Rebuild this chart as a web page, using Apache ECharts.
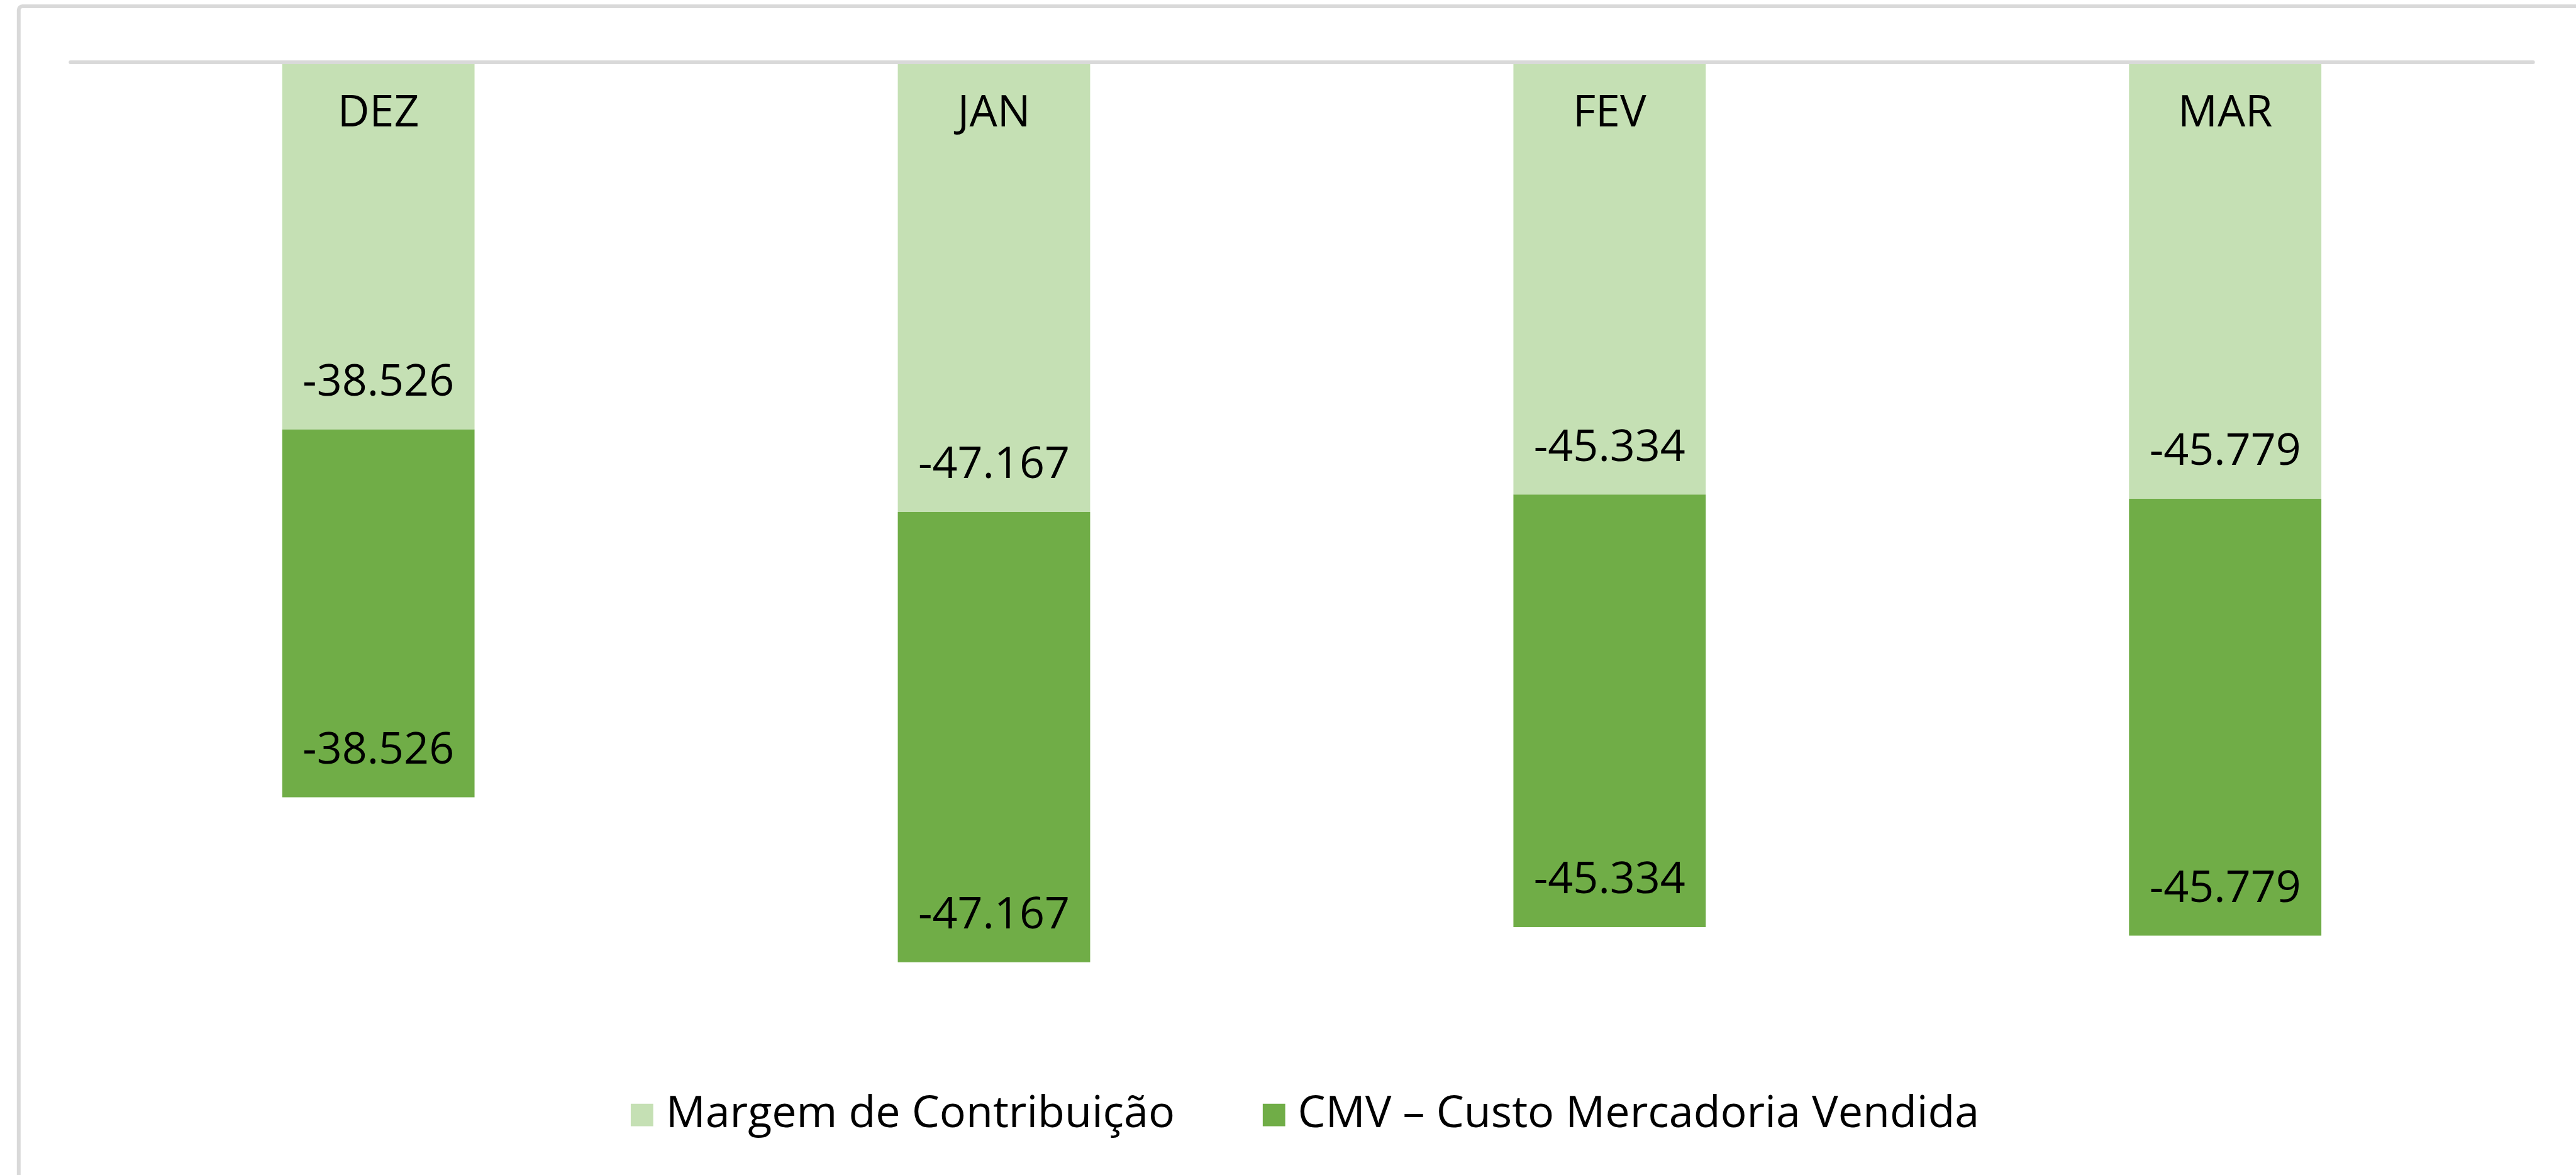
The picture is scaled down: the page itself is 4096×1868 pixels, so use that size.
<!DOCTYPE html>
<html>
<head>
<meta charset="utf-8">
<script src="https://cdn.jsdelivr.net/npm/echarts@6/dist/echarts.min.js"></script>
<style>
  html, body { margin: 0; padding: 0; background: #fff; }
  #chart { width: 4096px; height: 1868px; }
</style>
</head>
<body>
<div id="chart"></div>
<script>
// dados do gráfico
const categories = ['DEZ', 'JAN', 'FEV', 'MAR'];
const margem = [-38526, -47167, -45334, -45779];
const cmv = [-38526, -47167, -45334, -45779];
const seriesNames = ['Margem de Contribuição', 'CMV – Custo Mercadoria Vendida'];
const valueMin = -100000;
const valueMax = 0;

const S = 0.993; // escala referência -> janela
const FONT = 'Open Sans';
const fontSize = 70;

// -38526 -> "-38.526"
function fmt(v) {
  const s = Math.abs(v).toString().replace(/\B(?=(\d{3})+(?!\d))/g, '.');
  return (v < 0 ? '-' : '') + s;
}

const myChart = echarts.init(document.getElementById('chart'));

const barLabel = {
  show: true,
  position: 'insideBottom',
  distance: 74 * S - fontSize / 2,
  color: '#000',
  fontFamily: FONT,
  fontSize: fontSize,
  lineHeight: fontSize,
  formatter: (p) => fmt(p.value),
};

const legendText = {
  color: '#000',
  fontFamily: FONT,
  fontSize: fontSize,
  lineHeight: fontSize,
  padding: [0, 0, 0, 15],
};

const option = {
  animation: false,
  backgroundColor: '#fff',
  color: ['#C5E0B4', '#70AD47'],
  graphic: [
    {
      // moldura externa (cortada à direita e embaixo)
      type: 'rect',
      z: -1,
      shape: { x: 30 * S, y: 10 * S, width: 4300, height: 2000, r: 6 },
      style: { fill: 'none', stroke: '#D9D9D9', lineWidth: 6 },
    },
  ],
  legend: [
    {
      data: [seriesNames[0]],
      left: 1010 * S,
      top: 1785 * S - fontSize / 2,
      padding: 0,
      itemWidth: 36 * S,
      itemHeight: 36 * S,
      icon: 'rect',
      textStyle: legendText,
    },
    {
      data: [seriesNames[1]],
      left: 2022 * S,
      top: 1785 * S - fontSize / 2,
      padding: 0,
      itemWidth: 36 * S,
      itemHeight: 36 * S,
      icon: 'rect',
      textStyle: legendText,
    },
  ],
  grid: {
    left: 113 * S,
    right: 4096 - 4056 * S,
    top: 99 * S,
    height: 1528 * S,
    containLabel: false,
  },
  xAxis: {
    type: 'category',
    data: categories,
    position: 'top',
    z: 10,
    axisLine: {
      onZero: false,
      lineStyle: { color: '#D9D9D9', width: 6 },
    },
    axisTick: { show: false },
    splitLine: { show: false },
    axisLabel: {
      inside: true,
      interval: 0,
      margin: 83 * S,
      verticalAlign: 'middle',
      color: '#000',
      fontFamily: FONT,
      fontSize: fontSize,
      lineHeight: fontSize,
    },
  },
  yAxis: {
    type: 'value',
    min: valueMin,
    max: valueMax,
    show: false,
    splitLine: { show: false },
  },
  series: [
    {
      name: seriesNames[0],
      type: 'bar',
      stack: 'total',
      barWidth: 308 * S,
      data: margem,
      label: barLabel,
    },
    {
      name: seriesNames[1],
      type: 'bar',
      stack: 'total',
      barWidth: 308 * S,
      data: cmv,
      label: barLabel,
    },
  ],
};

myChart.setOption(option);
</script>
</body>
</html>
